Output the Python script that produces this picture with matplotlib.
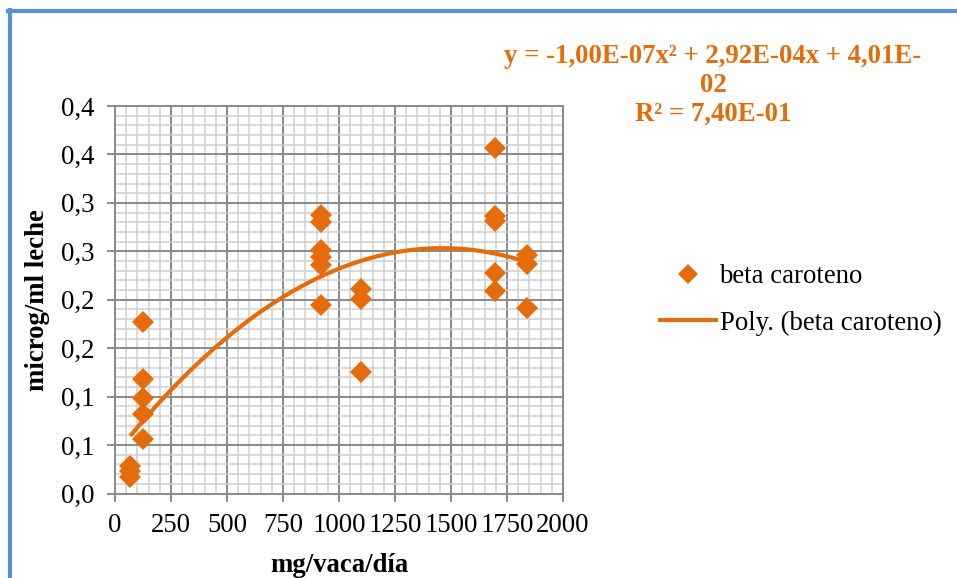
import numpy as np
import matplotlib
matplotlib.use("Agg")
import matplotlib.pyplot as plt
from matplotlib.lines import Line2D
from matplotlib.ticker import MultipleLocator, FixedLocator

# ---- data ----
dose = [68, 68, 68,
        127, 127, 127, 127, 127,
        918, 918, 918, 918, 918, 918,
        1100, 1100, 1100,
        1695, 1695, 1695, 1695, 1695,
        1838, 1838, 1838]
beta = [0.028, 0.023, 0.017,
        0.177, 0.118, 0.099, 0.082, 0.056,
        0.287, 0.280, 0.251, 0.244, 0.236, 0.195,
        0.211, 0.201, 0.125,
        0.357, 0.286, 0.281, 0.228, 0.209,
        0.246, 0.237, 0.192]
poly_coef = [-1.00e-07, 2.92e-04, 4.01e-02]   # a*x^2 + b*x + c
x_ticks = [0, 250, 500, 750, 1000, 1250, 1500, 1750, 2000]
y_ticks = [0.0, 0.05, 0.10, 0.15, 0.20, 0.25, 0.30, 0.35, 0.40]
y_tick_labels = ['0,0', '0,1', '0,1', '0,2', '0,2', '0,3', '0,3', '0,4', '0,4']
eq_text = "y = -1,00E-07x² + 2,92E-04x + 4,01E-\n02\nR² = 7,40E-01"

ORANGE = '#E46C0A'
FS = 19.3
W, H = 957, 578
plt.rcParams['font.family'] = ['Liberation Serif', 'DejaVu Serif']

fig = plt.figure(figsize=(W / 100, H / 100), dpi=100)
ax = fig.add_axes([115 / W, 1 - 493.5 / H, 448 / W, 387.5 / H])

# grid
ax.set_xlim(0, 2000)
ax.set_ylim(0, 0.40)
ax.xaxis.set_major_locator(FixedLocator(x_ticks))
ax.yaxis.set_major_locator(FixedLocator(y_ticks))
ax.xaxis.set_minor_locator(MultipleLocator(50))
ax.yaxis.set_minor_locator(MultipleLocator(0.01))
ax.set_yticklabels(y_tick_labels)
ax.set_xticklabels([str(t) for t in x_ticks])
ax.grid(which='minor', color='#d0d0d0', linewidth=1.1)
ax.grid(which='major', color='#8a8a8a', linewidth=1.4)
ax.set_axisbelow(True)
for s in ax.spines.values():
    s.set_color('#8a8a8a')
    s.set_linewidth(1.4)
ax.tick_params(which='major', length=6, width=1.4, color='#8a8a8a',
               labelsize=FS, direction='out')
ax.tick_params(axis='y', which='major', pad=9)
ax.tick_params(axis='x', which='major', pad=8)
ax.tick_params(which='minor', length=0)

# data
ax.plot(dose, beta, linestyle='none', marker='D', markersize=11.5,
        color=ORANGE, markeredgewidth=0, label='beta caroteno', zorder=4)
xx = np.linspace(min(dose), max(dose), 300)
yy = np.polyval(poly_coef, xx)
ax.plot(xx, yy, color=ORANGE, linewidth=3, label='Poly. (beta caroteno)',
        zorder=3, solid_capstyle='butt')

# legend
leg_handles = [Line2D([], [], linestyle='none', marker='D', markersize=10,
                      color=ORANGE, markeredgewidth=0),
               Line2D([], [], color=ORANGE, linewidth=3)]
fig.legend(leg_handles, ['beta caroteno', 'Poly. (beta caroteno)'],
           loc='upper left', bbox_to_anchor=(660 / W, 1 - 264 / H),
           frameon=False, fontsize=FS, handlelength=2.1, handletextpad=0.12,
           labelspacing=0.8, borderpad=0, borderaxespad=0)

# equation text
fig.text(713 / W, 1 - 44 / H, eq_text, ha='center', va='top',
         multialignment='center', fontsize=FS, fontweight='bold',
         color=ORANGE, linespacing=1.2)

# axis labels
fig.text(339 / W, 1 - 565 / H, 'mg/vaca/día', ha='center', va='center',
         fontsize=FS, fontweight='bold')
fig.text(38 / W, 1 - 300 / H, 'microg/ml leche', ha='center', va='center',
         rotation=90, fontsize=FS, fontweight='bold')

# blue border (left and top)
BLUE = '#5B8FD8'
fig.add_artist(Line2D([8 / W, 1], [1 - 11 / H, 1 - 11 / H], color=BLUE,
                      linewidth=3, transform=fig.transFigure))
fig.add_artist(Line2D([10 / W, 10 / W], [0, 1 - 9.5 / H], color=BLUE,
                      linewidth=3, transform=fig.transFigure))

fig.savefig('out.png', dpi=100)
